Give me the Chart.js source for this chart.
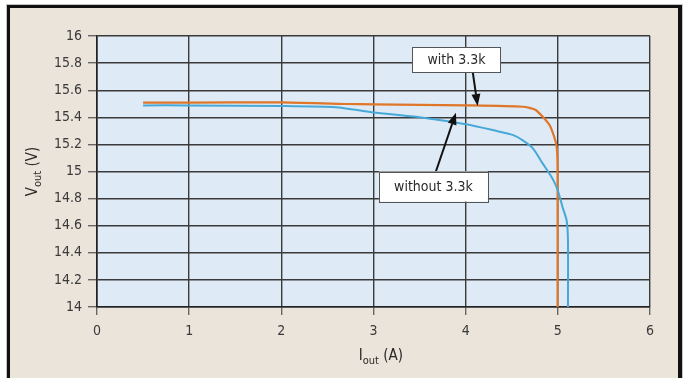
<!DOCTYPE html>
<html>
<head>
<meta charset="utf-8">
<script src="https://cdn.jsdelivr.net/npm/chart.js@4/dist/chart.umd.min.js"></script>
<style>
  html, body { margin: 0; padding: 0; background: #fff; }
  #wrap { width: 686px; height: 378px; position: relative; }
</style>
</head>
<body>
<div id="wrap"><canvas id="chart"></canvas></div>
<script>
// I out (A) vs V out (V)
const withCurrent = [0.5, 1, 2, 2.7, 3, 4, 4.62, 4.76, 4.91, 4.96, 4.987, 4.997, 4.997];
const withVoltage = [15.508, 15.508, 15.51, 15.498, 15.496, 15.488, 15.478, 15.454, 15.343, 15.257, 15.183, 15.035, 14.0];

const withoutCurrent = [0.5, 1, 2, 2.59, 3, 3.5, 4, 4.33, 4.51, 4.62, 4.73, 4.835, 4.94, 5.0, 5.05, 5.095, 5.11, 5.11];
const withoutVoltage = [15.488, 15.488, 15.483, 15.474, 15.436, 15.40, 15.348, 15.30, 15.27, 15.23, 15.17, 15.06, 14.95, 14.86, 14.74, 14.64, 14.49, 14.0];

const xTicks = [0, 1, 2, 3, 4, 5, 6];
const yTicks = [14, 14.2, 14.4, 14.6, 14.8, 15, 15.2, 15.4, 15.6, 15.8, 16];

const FONT = "'Liberation Sans Narrow', 'DejaVu Sans Condensed', 'Arial Narrow', sans-serif";

const toPoints = (xs, ys) => xs.map((x, i) => ({ x: x, y: ys[i] }));

const framePlugin = {
  id: "frame",
  beforeDraw(chart) {
    const ctx = chart.ctx;
    const a = chart.chartArea;
    ctx.save();
    ctx.fillStyle = "#fff";
    ctx.fillRect(0, 0, chart.width, chart.height);
    // beige panel with black border
    ctx.fillStyle = "#c4c4c4";
    ctx.fillRect(6, 4, 677, chart.height);
    ctx.fillStyle = "#111";
    ctx.fillRect(7, 5, 675, chart.height);
    ctx.fillStyle = "#ebe4da";
    ctx.fillRect(10, 8, 668, chart.height);
    // plot background
    ctx.fillStyle = "#deebf6";
    ctx.fillRect(a.left, a.top, a.right - a.left, a.bottom - a.top);
    ctx.restore();
  }
};

function drawSub(ctx, parts, x, y, align) {
  // parts: [text, size, dy]
  let total = 0;
  parts.forEach(p => { ctx.font = p[1] + "px " + FONT; total += ctx.measureText(p[0]).width; });
  let cx = align === "center" ? x - total / 2 : x;
  parts.forEach(p => {
    ctx.font = p[1] + "px " + FONT;
    ctx.fillText(p[0], cx, y + p[2]);
    cx += ctx.measureText(p[0]).width;
  });
}

function arrow(ctx, x1, y1, x2, y2) {
  const ang = Math.atan2(y2 - y1, x2 - x1);
  const len = 12, half = 4.5;
  const bx = x2 - len * Math.cos(ang), by = y2 - len * Math.sin(ang);
  ctx.strokeStyle = "#111";
  ctx.lineWidth = 2;
  ctx.beginPath();
  ctx.moveTo(x1, y1);
  ctx.lineTo(bx, by);
  ctx.stroke();
  ctx.fillStyle = "#111";
  ctx.beginPath();
  ctx.moveTo(x2, y2);
  ctx.lineTo(bx + half * Math.sin(ang), by - half * Math.cos(ang));
  ctx.lineTo(bx - half * Math.sin(ang), by + half * Math.cos(ang));
  ctx.closePath();
  ctx.fill();
}

function label(ctx, text, cx, top, w, h) {
  ctx.fillStyle = "#fff";
  ctx.fillRect(cx - w / 2, top, w, h);
  ctx.strokeStyle = "#555";
  ctx.lineWidth = 1;
  ctx.strokeRect(Math.round(cx - w / 2) + 0.5, Math.round(top) + 0.5, w, h);
  ctx.fillStyle = "#2a2a2a";
  ctx.font = "14px " + FONT;
  ctx.textAlign = "center";
  ctx.textBaseline = "middle";
  ctx.fillText(text, cx, top + h / 2 + 1);
}

const notesPlugin = {
  id: "notes",
  afterDraw(chart) {
    const ctx = chart.ctx;
    const xs = chart.scales.x, ys = chart.scales.y;
    const a = chart.chartArea;
    ctx.save();
    // axis titles with subscripts
    ctx.fillStyle = "#2a2a2a";
    ctx.textBaseline = "alphabetic";
    ctx.textAlign = "left";
    drawSub(ctx, [["I", 15, 0], ["out", 11, 4], [" (A)", 15, 0]], xs.getPixelForValue(3.08), 360, "center");
    ctx.translate(37, (a.top + a.bottom) / 2);
    ctx.rotate(-Math.PI / 2);
    drawSub(ctx, [["V", 15, 0], ["out", 11, 4], [" (V)", 15, 0]], 0, 0, "center");
    ctx.restore();

    ctx.save();
    // callouts
    arrow(ctx, xs.getPixelForValue(4.075), ys.getPixelForValue(15.742), xs.getPixelForValue(4.13), ys.getPixelForValue(15.483));
    arrow(ctx, xs.getPixelForValue(3.677), ys.getPixelForValue(15.0), xs.getPixelForValue(3.895), ys.getPixelForValue(15.434));
    label(ctx, "with 3.3k", xs.getPixelForValue(3.9), ys.getPixelForValue(15.919), 88, 25);
    label(ctx, "without 3.3k", xs.getPixelForValue(3.65), ys.getPixelForValue(15.0), 109, 30);
    ctx.restore();
  }
};

new Chart(document.getElementById("chart"), {
  type: "scatter",
  data: {
    datasets: [
      {
        label: "without 3.3k",
        data: toPoints(withoutCurrent, withoutVoltage),
        showLine: true,
        borderColor: "#47a8d8",
        borderWidth: 2,
        pointRadius: 0,
        tension: 0.2,
      },
      {
        label: "with 3.3k",
        data: toPoints(withCurrent, withVoltage),
        showLine: true,
        borderColor: "#e0762a",
        borderWidth: 2.2,
        pointRadius: 0,
        tension: 0.2,
      },
    ],
  },
  options: {
    responsive: true,
    maintainAspectRatio: false,
    animation: false,
    layout: { padding: { left: 0, top: 36, right: 36, bottom: 0 } },
    plugins: {
      legend: { display: false },
      tooltip: { enabled: false },
    },
    scales: {
      x: {
        type: "linear",
        min: 0,
        max: 6,
        afterBuildTicks: (s) => { s.ticks = xTicks.map(v => ({ value: v })); },
        afterFit: (s) => { s.height = 71; },
        grid: { color: "#3a3a3a", lineWidth: 1.4, tickLength: 8, tickColor: "#666" },
        border: { color: "#222", width: 1.6 },
        ticks: { color: "#3a3a3a", padding: 8, font: { family: FONT, size: 14 } },
      },
      y: {
        type: "linear",
        min: 14,
        max: 16,
        afterBuildTicks: (s) => { s.ticks = yTicks.map(v => ({ value: v })); },
        afterFit: (s) => { s.width = 97; },
        grid: { color: "#3a3a3a", lineWidth: 1.4, tickLength: 9, tickColor: "#666" },
        border: { color: "#222", width: 1.6 },
        ticks: {
          color: "#3a3a3a",
          padding: 6,
          font: { family: FONT, size: 14 },
          callback: (v) => String(Number(v.toFixed(1))),
        },
      },
    },
  },
  plugins: [framePlugin, notesPlugin],
});
</script>
</body>
</html>
